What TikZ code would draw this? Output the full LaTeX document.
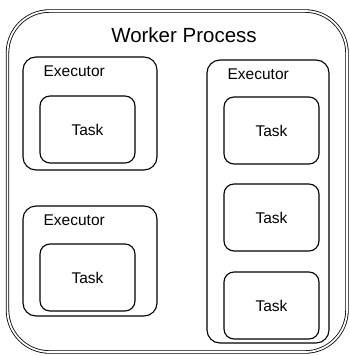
\documentclass[tikz,border=0pt]{standalone}
\usepackage{fontspec}
\setmainfont{Liberation Sans}
\begin{document}
\begin{tikzpicture}[x=1pt,y=-1pt,
  box/.style={draw=black, line width=1.1pt, rounded corners=#1, inner sep=0pt},
  execbox/.style={box=13pt, minimum width=#1},
  taskbox/.style={box=10pt, minimum width=95pt, minimum height=67pt,
    font=\fontsize{15.5}{18}\selectfont},
  lbl/.style={anchor=base west, inner sep=0pt, font=\fontsize{15.5}{18}\selectfont},
  outerbox/.style={draw=black, line width=0.8pt, double=white, double distance=1.8pt,
    rounded corners=42pt}]
\path[use as bounding box] (0,0) rectangle (350,356);

% worker process frame
\draw[outerbox] (7.5,11) rectangle (347,352);
\node[anchor=base, inner sep=0pt, font=\fontsize{20.5}{24}\selectfont] (title) at (184,42) {Worker Process};

% executors
\node[execbox=134pt, minimum height=113pt] (e1) at (90,113.5) {};
\node[execbox=134pt, minimum height=110pt] (e2) at (90,261) {};
\node[execbox=122pt, minimum height=283pt] (e3) at (268,201.5) {};
\node[lbl] (l1) at ([shift={(21pt,-20pt)}]e1.north west) {Executor};
\node[lbl] (l2) at ([shift={(21pt,-20pt)}]e2.north west) {Executor};
\node[lbl] (l3) at ([shift={(21pt,-20pt)}]e3.north west) {Executor};

% tasks
\node[taskbox] (t1) at (87.5,129.5) {Task};
\node[taskbox] (t2) at (87.5,277.5) {Task};
\node[taskbox] (t3) at (271.5,130.5) {Task};
\node[taskbox] (t4) at (271.5,217.5) {Task};
\node[taskbox] (t5) at (271.5,305.5) {Task};
\end{tikzpicture}
\end{document}
